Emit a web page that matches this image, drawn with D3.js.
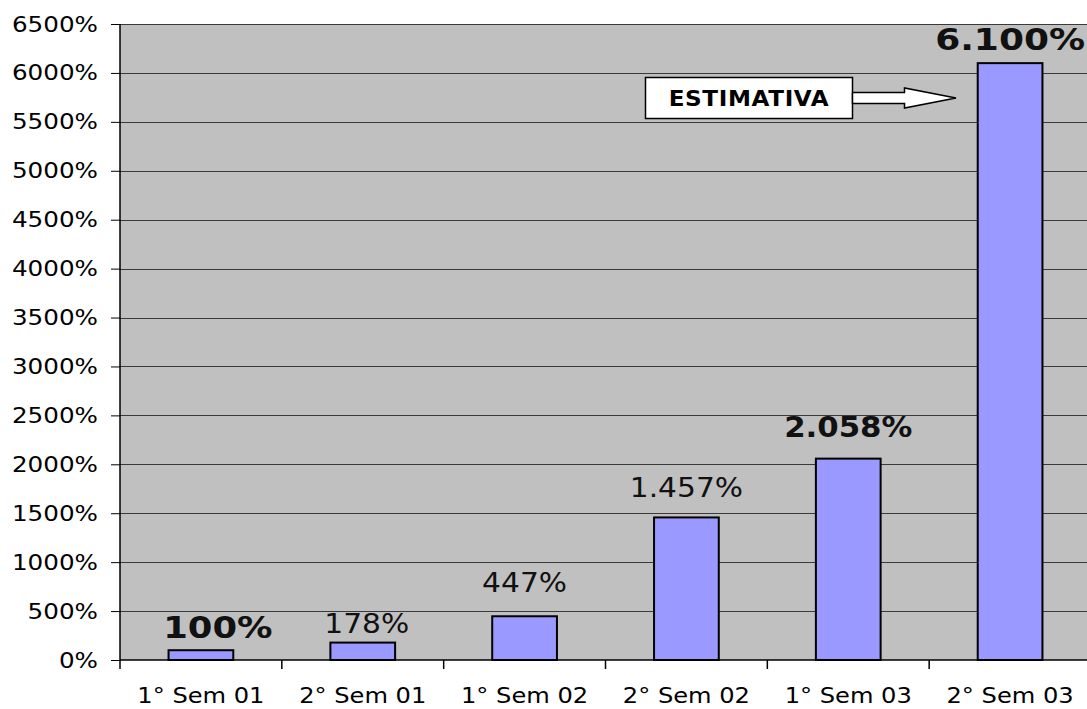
<!DOCTYPE html>
<html>
<head>
<meta charset="utf-8">
<script src="https://cdn.jsdelivr.net/npm/d3@7"></script>
<style>
  body { margin: 0; background: #fff; }
  text { font-family: 'DejaVu Sans', Verdana, sans-serif; transform-box: fill-box; }
</style>
</head>
<body>
<div class="canvas"></div>
<script>
// data
const categories = ['1° Sem 01', '2° Sem 01', '1° Sem 02', '2° Sem 02', '1° Sem 03', '2° Sem 03'];
const values = [100, 178, 447, 1457, 2058, 6100];
const valueLabels = ['100%', '178%', '447%', '1.457%', '2.058%', '6.100%'];
const yTicks = [0, 500, 1000, 1500, 2000, 2500, 3000, 3500, 4000, 4500, 5000, 5500, 6000, 6500];

// label look, set by hand in the original chart
const labelBold = [true, false, false, false, true, true];
const labelSize = [30, 27, 27, 27, 28, 30];
const labelStretch = [1.18, 1.1, 1.1, 1.1, 1.1, 1.2];
const labelGap = [12, 10, 24, 20, 22, 13];
const labelShift = [17, 4, 0, 0, 0, 0];

// the original font is drawn a bit wider than DejaVu
const stretch = (sel, k, origin) => sel
  .style('transform-origin', origin)
  .style('transform', `scaleX(${k})`);

const svg = d3.select('.canvas')
  .append('svg')
  .attr('width', 1087)
  .attr('height', 709);

const margin = { top: 24, left: 120 };
const graphWidth = 971;
const graphHeight = 636;

const graph = svg.append('g')
  .attr('transform', `translate(${margin.left}, ${margin.top})`);

const x = d3.scaleBand()
  .domain(categories)
  .range([0, graphWidth]);

const y = d3.scaleLinear()
  .domain([0, 6500])
  .range([graphHeight, 0]);

// plot background
graph.append('rect')
  .attr('width', graphWidth)
  .attr('height', graphHeight)
  .attr('fill', '#c0c0c0');

// gridlines
graph.selectAll('line.grid')
  .data(yTicks.filter(d => d > 0))
  .enter()
  .append('line')
  .attr('class', 'grid')
  .attr('x1', 0)
  .attr('x2', graphWidth)
  .attr('y1', d => Math.round(y(d)) + 0.5)
  .attr('y2', d => Math.round(y(d)) + 0.5)
  .attr('stroke', '#3a3a3a')
  .attr('stroke-width', 1);

// bars
const barW = x.bandwidth() * 0.4;
graph.selectAll('rect.bar')
  .data(values)
  .enter()
  .append('rect')
  .attr('class', 'bar')
  .attr('x', (d, i) => x(categories[i]) + (x.bandwidth() - barW) / 2)
  .attr('y', d => y(d))
  .attr('width', barW)
  .attr('height', d => graphHeight - y(d))
  .attr('fill', '#9999ff')
  .attr('stroke', '#000')
  .attr('stroke-width', 2);

// value labels
graph.selectAll('text.val')
  .data(values)
  .enter()
  .append('text')
  .attr('class', 'val')
  .attr('x', (d, i) => x(categories[i]) + x.bandwidth() / 2 + labelShift[i])
  .attr('y', (d, i) => y(d) - labelGap[i])
  .attr('text-anchor', 'middle')
  .attr('font-size', (d, i) => labelSize[i])
  .attr('font-weight', (d, i) => labelBold[i] ? 'bold' : 'normal')
  .attr('fill', '#111')
  .style('transform-origin', 'center')
  .style('transform', (d, i) => `scaleX(${labelStretch[i]})`)
  .text((d, i) => valueLabels[i]);

// axes
const yAxis = d3.axisLeft(y)
  .tickValues(yTicks)
  .tickSize(9)
  .tickPadding(13)
  .tickFormat(d => d + '%');

const xAxis = d3.axisBottom(x)
  .tickSize(0)
  .tickPadding(28);

const yAxisGroup = graph.append('g').call(yAxis);
const xAxisGroup = graph.append('g')
  .attr('transform', `translate(0, ${graphHeight})`)
  .call(xAxis);

yAxisGroup.select('.domain')
  .attr('d', `M0,0V${graphHeight + 9}`)
  .attr('stroke', '#000')
  .attr('stroke-width', 1.5);
yAxisGroup.selectAll('.tick line').attr('stroke', '#000');
yAxisGroup.selectAll('text')
  .attr('font-size', 22)
  .attr('font-family', "'DejaVu Sans', Verdana, sans-serif")
  .attr('fill', '#000')
  .call(stretch, 1.12, 'right center');

xAxisGroup.select('.domain')
  .attr('d', `M0,0H${graphWidth}`)
  .attr('stroke', '#000')
  .attr('stroke-width', 1.5);
xAxisGroup.selectAll('text')
  .attr('font-size', 21)
  .attr('font-family', "'DejaVu Sans', Verdana, sans-serif")
  .attr('fill', '#000')
  .call(stretch, 1.15, 'center');

// category boundary ticks
xAxisGroup.selectAll('line.sep')
  .data(categories.slice(1))
  .enter()
  .append('line')
  .attr('class', 'sep')
  .attr('x1', d => x(d))
  .attr('x2', d => x(d))
  .attr('y1', 0)
  .attr('y2', 9)
  .attr('stroke', '#000')
  .attr('stroke-width', 1.5);

// ESTIMATIVA annotation with block arrow
const note = svg.append('g');
note.append('rect')
  .attr('x', 645.5)
  .attr('y', 77.5)
  .attr('width', 207)
  .attr('height', 41)
  .attr('fill', '#fff')
  .attr('stroke', '#000')
  .attr('stroke-width', 1.5);
note.append('text')
  .attr('x', 749)
  .attr('y', 106)
  .attr('text-anchor', 'middle')
  .attr('font-size', 22)
  .attr('font-weight', 'bold')
  .attr('letter-spacing', 0.6)
  .call(stretch, 1.05, 'center')
  .text('ESTIMATIVA');
note.append('path')
  .attr('d', 'M852.5,92.5 H904.5 V88 L956,98 L904.5,108 V103.5 H852.5 Z')
  .attr('fill', '#fff')
  .attr('stroke', '#000')
  .attr('stroke-width', 1.5);
</script>
</body>
</html>
